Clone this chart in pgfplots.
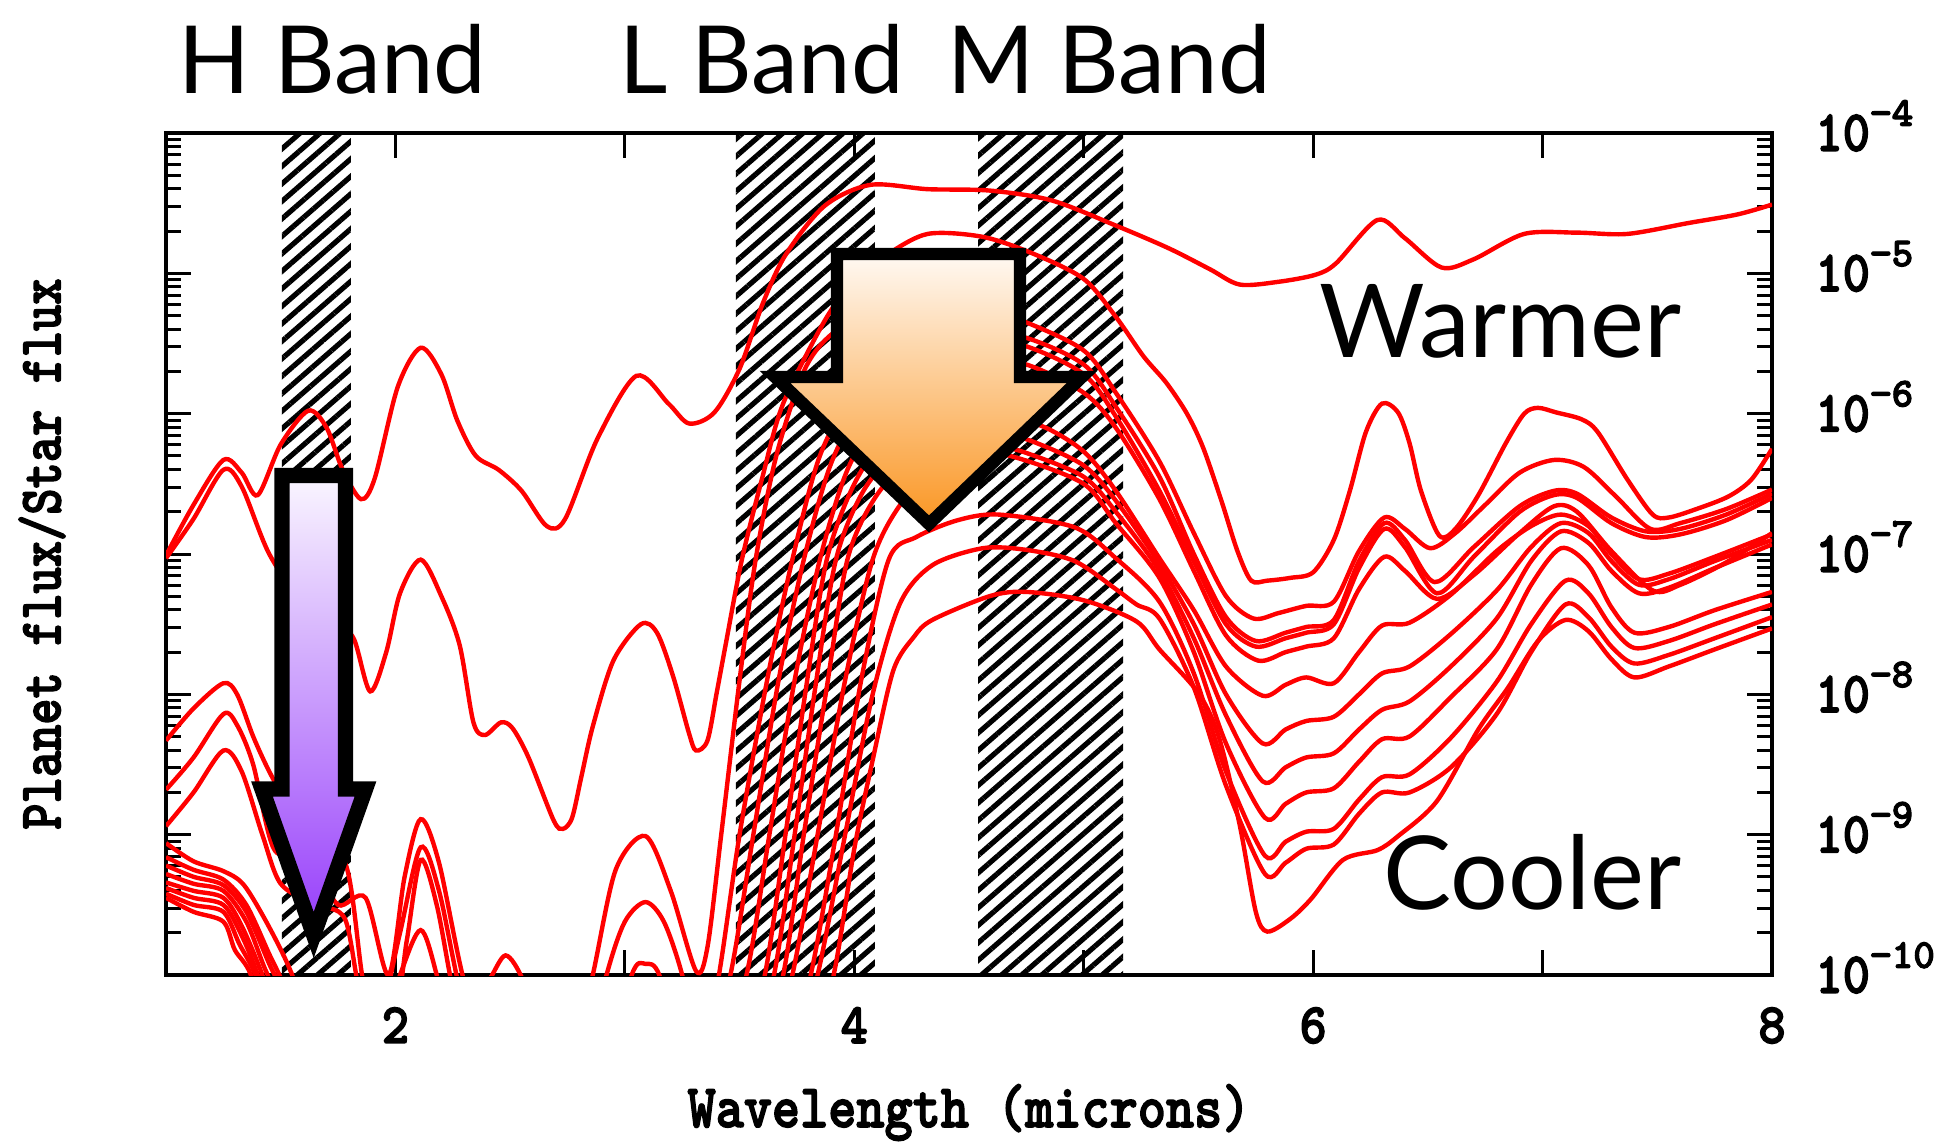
\documentclass[border=0pt]{standalone}
\usepackage{pgfplots}
\pgfplotsset{compat=1.18}
\usepackage{graphicx}
\usepackage{fontspec}
\usetikzlibrary{patterns.meta}
\newfontfamily\lato{Lato}
\newfontfamily\monob{lmmonolt10-bold.otf}[FakeBold=2.5]
\newcommand\tf{\monob\fontsize{26pt}{26pt}\selectfont}
\newcommand\ef{\monob\fontsize{20.6pt}{20.6pt}\selectfont}
\newcommand\xl[1]{\scalebox{1}[1.1]{\tf #1}}
\newcommand\yl[1]{\scalebox{1}[1.12]{\tf 10}\smash{\raisebox{12.5pt}{\ef −#1}}}
\definecolor{purpleB}{RGB}{150,60,250}
\definecolor{purpleT}{RGB}{250,246,255}
\definecolor{orangeB}{RGB}{250,150,35}
\definecolor{orangeT}{RGB}{255,249,243}
\pgfplotsset{spec/.style={red, line width=2.2pt, smooth, mark=none}}
\begin{document}
\begin{tikzpicture}
\useasboundingbox (0,0) rectangle (977pt,573pt);
\begin{axis}[
  at={(83pt,85.5pt)}, anchor=south west,
  scale only axis, width=803pt, height=421pt,
  xmin=1, xmax=8, ymin=1e-10, ymax=1e-4, ymode=log,
  xtick={1,2,3,4,5,6,7,8},
  xticklabels={,\xl{2},,\xl{4},,\xl{6},,\xl{8}},
  ytick={1e-10,1e-9,1e-8,1e-7,1e-6,1e-5,1e-4},
  yticklabels={\yl{10},\yl{9},\yl{8},\yl{7},\yl{6},\yl{5},\yl{4}},
  minor ytick={2e-10,3e-10,4e-10,5e-10,6e-10,7e-10,8e-10,9e-10,
    2e-9,3e-9,4e-9,5e-9,6e-9,7e-9,8e-9,9e-9,
    2e-8,3e-8,4e-8,5e-8,6e-8,7e-8,8e-8,9e-8,
    2e-7,3e-7,4e-7,5e-7,6e-7,7e-7,8e-7,9e-7,
    2e-6,3e-6,4e-6,5e-6,6e-6,7e-6,8e-6,9e-6,
    2e-5,3e-5,4e-5,5e-5,6e-5,7e-5,8e-5,9e-5},
  yticklabel pos=right,
  ytick pos=both, xtick pos=both,
  xticklabel pos=lower,
  tick align=inside,
  major tick length=12.5pt, minor tick length=7.5pt,
  every tick/.style={black, line width=1.5pt},
  axis line style={line width=2pt},
  xticklabel style={anchor=north, inner sep=0pt, yshift=-16pt},
  yticklabel style={anchor=west, inner sep=0pt, xshift=21.5pt},
  xlabel={\scalebox{1}[1.15]{\monob\fontsize{26.8pt}{26.8pt}\selectfont Wavelength (microns)}},
  ylabel={\scalebox{1}[1.2]{\monob\fontsize{25pt}{25pt}\selectfont Planet flux/Star flux}},
  every axis x label/.style={at={(axis description cs:0.5,-0.1805)}, anchor=base, inner sep=0pt},
  every axis y label/.style={at={(axis description cs:-0.0772,0.5)}, rotate=90, anchor=center, inner sep=0pt},
  clip=true,
]
% hatched bands
\fill[pattern={Lines[angle=41,distance=6.6pt,line width=2.6pt]}] (axis cs:1.505,1e-10) rectangle (axis cs:1.806,1e-4);
\fill[pattern={Lines[angle=41,distance=6.6pt,line width=2.6pt]}] (axis cs:3.484,1e-10) rectangle (axis cs:4.09,1e-4);
\fill[pattern={Lines[angle=41,distance=6.6pt,line width=2.6pt]}] (axis cs:4.54,1e-10) rectangle (axis cs:5.172,1e-4);

% C1
\addplot[spec] coordinates {(1.00,9.77e-8) (1.12,2.24e-7) (1.25,4.68e-7) (1.33,3.80e-7) (1.40,2.63e-7) (1.50,6.03e-7) (1.62,1.05e-6) (1.70,7.94e-7) (1.77,3.98e-7) (1.85,2.46e-7) (1.91,3.47e-7) (2.01,1.55e-6) (2.11,2.95e-6) (2.20,1.91e-6) (2.27,8.91e-7) (2.35,5.01e-7) (2.45,3.98e-7) (2.55,2.82e-7) (2.66,1.58e-7) (2.74,1.78e-7) (2.88,6.61e-7) (3.05,1.86e-6) (3.19,1.18e-6) (3.28,8.51e-7) (3.39,1.02e-6) (3.50,2.09e-6) (3.60,6.03e-6) (3.70,1.35e-5) (3.87,3.02e-5) (4.07,4.27e-5) (4.32,3.98e-5) (4.59,3.89e-5) (4.86,3.31e-5) (5.14,2.19e-5) (5.37,1.51e-5) (5.55,1.07e-5) (5.68,8.32e-6) (5.85,8.71e-6) (6.01,9.77e-6) (6.10,1.18e-5) (6.28,2.40e-5) (6.40,1.78e-5) (6.56,1.10e-5) (6.70,1.26e-5) (6.92,1.91e-5) (7.15,1.95e-5) (7.37,1.91e-5) (7.64,2.29e-5) (7.85,2.63e-5) (8.00,3.09e-5)};
% C2
\addplot[spec] coordinates {(1.00,9.33e-8) (1.12,1.78e-7) (1.25,3.98e-7) (1.33,3.02e-7) (1.45,1.00e-7) (1.60,4.47e-8) (1.75,3.16e-8) (1.82,2.46e-8) (1.89,1.05e-8) (1.96,2.00e-8) (2.02,5.25e-8) (2.11,9.12e-8) (2.20,5.01e-8) (2.28,2.24e-8) (2.34,6.31e-9) (2.39,5.13e-9) (2.46,6.31e-9) (2.51,5.75e-9) (2.58,3.55e-9) (2.69,1.26e-9) (2.73,1.10e-9) (2.77,1.32e-9) (2.81,2.57e-9) (2.86,5.89e-9) (2.95,1.74e-8) (3.07,3.16e-8) (3.14,2.75e-8) (3.21,1.35e-8) (3.28,5.25e-9) (3.31,3.98e-9) (3.36,4.68e-9) (3.40,1.02e-8) (3.44,2.29e-8) (3.51,9.12e-8) (3.60,3.55e-7) (3.69,1.18e-6) (3.87,4.57e-6) (4.00,8.91e-6) (4.14,1.35e-5) (4.32,1.91e-5) (4.56,1.82e-5) (4.78,1.38e-5) (5.00,9.12e-6) (5.14,4.90e-6) (5.26,2.57e-6) (5.36,1.66e-6) (5.45,1.00e-6) (5.52,5.75e-7) (5.60,2.40e-7) (5.67,1.05e-7) (5.73,6.46e-8) (5.80,6.46e-8) (5.90,6.76e-8) (6.00,7.41e-8) (6.09,1.26e-7) (6.16,2.82e-7) (6.23,7.41e-7) (6.30,1.18e-6) (6.37,1.02e-6) (6.42,6.17e-7) (6.47,2.82e-7) (6.55,1.35e-7) (6.62,1.51e-7) (6.72,2.63e-7) (6.84,6.17e-7) (6.92,1.00e-6) (6.98,1.10e-6) (7.06,1.02e-6) (7.17,9.12e-7) (7.24,7.41e-7) (7.37,3.39e-7) (7.48,1.91e-7) (7.55,1.82e-7) (7.67,2.09e-7) (7.81,2.57e-7) (7.91,3.39e-7) (8.00,5.62e-7)};
% C3
\addplot[spec] coordinates {(1.00,4.68e-9) (1.12,7.94e-9) (1.25,1.20e-8) (1.31,1.00e-8) (1.38,5.01e-9) (1.45,2.82e-9) (1.55,1.41e-9) (1.65,6.31e-10) (1.75,3.16e-10) (1.87,3.55e-10) (1.97,1.00e-10) (2.04,5.01e-10) (2.11,1.29e-9) (2.19,6.31e-10) (2.31,7.94e-11) (2.40,8.91e-11) (2.48,1.38e-10) (2.56,8.91e-11) (2.65,3.16e-11) (2.78,3.16e-11) (2.86,1.00e-10) (2.96,5.62e-10) (3.09,9.77e-10) (3.20,3.98e-10) (3.31,1.07e-10) (3.36,1.58e-10) (3.42,1.00e-9) (3.50,1.26e-8) (3.57,9.12e-8) (3.66,5.01e-7) (3.78,2.00e-6) (3.89,3.55e-6) (4.05,5.01e-6) (4.30,6.03e-6) (4.55,5.62e-6) (4.75,4.47e-6) (5.00,2.82e-6) (5.14,1.41e-6) (5.33,4.57e-7) (5.48,1.41e-7) (5.62,5.01e-8) (5.74,3.47e-8) (5.85,3.80e-8) (5.97,4.27e-8) (6.09,4.57e-8) (6.20,1.05e-7) (6.31,1.82e-7) (6.40,1.51e-7) (6.51,1.10e-7) (6.62,1.41e-7) (6.75,2.24e-7) (6.90,3.80e-7) (7.05,4.68e-7) (7.18,4.17e-7) (7.32,2.57e-7) (7.47,1.51e-7) (7.60,1.66e-7) (7.80,2.09e-7) (8.00,2.88e-7)};
% C4
\addplot[spec] coordinates {(1.00,2.09e-9) (1.12,3.55e-9) (1.25,7.24e-9) (1.31,6.03e-9) (1.38,3.16e-9) (1.47,7.94e-10) (1.60,7.08e-10) (1.78,6.31e-10) (1.86,8.91e-11) (1.93,5.01e-11) (2.02,2.00e-10) (2.11,8.13e-10) (2.19,3.98e-10) (2.28,7.94e-11) (2.40,1.58e-11) (2.80,1.58e-11) (2.92,1.00e-10) (3.00,2.40e-10) (3.09,3.31e-10) (3.17,2.40e-10) (3.25,1.00e-10) (3.33,2.51e-11) (3.41,1.00e-10) (3.50,1.00e-9) (3.62,1.26e-8) (3.73,9.12e-8) (3.85,5.01e-7) (4.00,1.41e-6) (4.20,2.82e-6) (4.50,3.98e-6) (4.75,3.47e-6) (5.00,2.24e-6) (5.14,1.12e-6) (5.33,3.55e-7) (5.48,1.00e-7) (5.62,3.55e-8) (5.75,2.40e-8) (5.88,2.75e-8) (5.97,3.02e-8) (6.09,3.39e-8) (6.20,8.91e-8) (6.31,1.66e-7) (6.40,1.26e-7) (6.53,6.31e-8) (6.70,1.12e-7) (6.90,2.19e-7) (7.05,2.82e-7) (7.15,2.69e-7) (7.30,1.82e-7) (7.45,1.45e-7) (7.60,1.51e-7) (7.80,1.91e-7) (8.00,2.69e-7)};
% C5
\addplot[spec] coordinates {(1.00,1.15e-9) (1.12,2.00e-9) (1.25,3.98e-9) (1.33,2.82e-9) (1.42,1.00e-9) (1.50,4.47e-10) (1.65,3.16e-10) (1.78,2.51e-10) (1.86,6.31e-11) (2.00,6.31e-11) (2.05,1.78e-10) (2.11,6.61e-10) (2.18,3.16e-10) (2.25,7.94e-11) (2.35,1.58e-11) (2.90,1.58e-11) (3.03,1.00e-10) (3.09,1.20e-10) (3.15,1.00e-10) (3.25,2.51e-11) (3.35,2.51e-11) (3.46,1.00e-10) (3.56,1.00e-9) (3.67,1.26e-8) (3.78,9.12e-8) (3.90,4.47e-7) (4.05,1.26e-6) (4.25,2.51e-6) (4.50,3.55e-6) (4.75,3.02e-6) (5.00,1.91e-6) (5.14,9.55e-7) (5.33,2.82e-7) (5.48,8.91e-8) (5.62,3.16e-8) (5.75,2.19e-8) (5.88,2.51e-8) (5.97,2.75e-8) (6.09,3.16e-8) (6.20,7.94e-8) (6.31,1.51e-7) (6.40,1.12e-7) (6.54,5.25e-8) (6.70,9.55e-8) (6.90,2.00e-7) (7.05,2.63e-7) (7.15,2.51e-7) (7.30,1.66e-7) (7.45,1.32e-7) (7.60,1.38e-7) (7.80,1.74e-7) (8.00,2.51e-7)};
% C6
\addplot[spec] coordinates {(1.00,8.71e-10) (1.12,6.46e-10) (1.25,5.50e-10) (1.34,4.37e-10) (1.45,2.19e-10) (1.55,1.00e-10) (1.65,3.16e-11) (1.90,2.51e-11) (2.02,1.00e-10) (2.11,2.09e-10) (2.18,1.00e-10) (2.26,2.51e-11) (3.40,2.51e-11) (3.53,1.00e-10) (3.63,1.00e-9) (3.74,1.26e-8) (3.85,9.12e-8) (3.97,3.98e-7) (4.12,1.00e-6) (4.30,2.00e-6) (4.50,2.51e-6) (4.75,2.24e-6) (5.00,1.41e-6) (5.14,7.94e-7) (5.33,2.46e-7) (5.48,7.59e-8) (5.62,2.63e-8) (5.76,1.74e-8) (5.88,2.00e-8) (5.97,2.19e-8) (6.09,2.51e-8) (6.20,5.62e-8) (6.31,9.55e-8) (6.40,7.59e-8) (6.54,4.79e-8) (6.70,7.08e-8) (6.90,1.41e-7) (7.05,2.19e-7) (7.15,2.00e-7) (7.30,1.05e-7) (7.48,5.50e-8) (7.60,6.03e-8) (7.80,8.71e-8) (8.00,1.41e-7)};
% C7
\addplot[spec] coordinates {(1.00,6.92e-10) (1.12,5.62e-10) (1.25,4.79e-10) (1.35,3.16e-10) (1.45,1.41e-10) (1.52,7.94e-11) (1.62,2.51e-11) (3.50,2.51e-11) (3.61,1.00e-10) (3.70,1.00e-9) (3.79,1.12e-8) (3.88,9.12e-8) (4.00,3.16e-7) (4.15,7.08e-7) (4.35,1.00e-6) (4.60,1.00e-6) (4.82,8.13e-7) (5.00,5.37e-7) (5.14,2.82e-7) (5.33,9.33e-8) (5.48,3.98e-8) (5.62,1.58e-8) (5.78,9.77e-9) (5.88,1.17e-8) (5.97,1.32e-8) (6.09,1.20e-8) (6.20,2.00e-8) (6.30,3.09e-8) (6.42,3.24e-8) (6.60,5.13e-8) (6.80,1.05e-7) (6.95,1.58e-7) (7.08,1.91e-7) (7.20,1.58e-7) (7.30,1.00e-7) (7.42,6.61e-8) (7.55,7.24e-8) (7.75,9.55e-8) (8.00,1.38e-7)};
% C8
\addplot[spec] coordinates {(1.00,6.03e-10) (1.12,5.01e-10) (1.25,4.37e-10) (1.35,2.82e-10) (1.45,1.20e-10) (1.50,7.94e-11) (1.60,2.51e-11) (3.54,2.51e-11) (3.65,1.00e-10) (3.74,1.00e-9) (3.83,1.12e-8) (3.92,9.12e-8) (4.04,2.82e-7) (4.20,5.62e-7) (4.40,7.94e-7) (4.60,7.59e-7) (4.78,6.31e-7) (5.00,4.27e-7) (5.14,2.40e-7) (5.33,8.51e-8) (5.48,3.16e-8) (5.62,1.00e-8) (5.78,4.47e-9) (5.88,5.62e-9) (5.97,6.46e-9) (6.09,6.92e-9) (6.20,1.00e-8) (6.30,1.41e-8) (6.42,1.58e-8) (6.60,2.69e-8) (6.80,5.50e-8) (6.95,1.12e-7) (7.08,1.66e-7) (7.20,1.41e-7) (7.30,8.91e-8) (7.42,6.03e-8) (7.55,6.61e-8) (7.75,8.91e-8) (8.00,1.26e-7)};
% C9
\addplot[spec] coordinates {(1.00,5.25e-10) (1.12,4.47e-10) (1.25,3.98e-10) (1.35,2.40e-10) (1.43,1.12e-10) (1.50,6.31e-11) (1.60,2.51e-11) (3.58,2.51e-11) (3.69,1.00e-10) (3.78,1.00e-9) (3.88,1.12e-8) (3.97,9.12e-8) (4.09,2.51e-7) (4.25,4.79e-7) (4.45,6.31e-7) (4.60,6.03e-7) (4.75,5.25e-7) (5.00,3.55e-7) (5.14,2.00e-7) (5.33,7.59e-8) (5.48,2.51e-8) (5.62,7.08e-9) (5.78,2.40e-9) (5.88,3.02e-9) (5.97,3.55e-9) (6.09,3.80e-9) (6.20,5.62e-9) (6.30,7.76e-9) (6.42,8.91e-9) (6.60,1.58e-8) (6.80,3.47e-8) (6.95,8.91e-8) (7.08,1.45e-7) (7.20,1.20e-7) (7.30,7.59e-8) (7.42,5.25e-8) (7.55,5.75e-8) (7.75,7.94e-8) (8.00,1.17e-7)};
% C10
\addplot[spec] coordinates {(1.00,4.57e-10) (1.12,3.98e-10) (1.25,3.55e-10) (1.33,2.24e-10) (1.42,1.00e-10) (1.50,3.98e-11) (1.60,2.51e-11) (3.62,2.51e-11) (3.73,1.00e-10) (3.84,1.00e-9) (3.96,1.26e-8) (4.08,9.12e-8) (4.20,2.24e-7) (4.35,3.98e-7) (4.55,5.25e-7) (4.72,4.79e-7) (5.00,3.16e-7) (5.14,1.66e-7) (5.33,6.76e-8) (5.48,2.00e-8) (5.62,4.47e-9) (5.79,1.32e-9) (5.88,1.66e-9) (5.97,2.00e-9) (6.09,2.14e-9) (6.20,3.31e-9) (6.30,4.79e-9) (6.42,5.01e-9) (6.60,9.55e-9) (6.80,2.09e-8) (6.95,6.03e-8) (7.08,1.10e-7) (7.20,8.32e-8) (7.30,4.17e-8) (7.40,2.75e-8) (7.55,3.02e-8) (7.75,3.98e-8) (8.00,5.37e-8)};
% C11
\addplot[spec] coordinates {(1.00,4.17e-10) (1.12,3.55e-10) (1.25,3.16e-10) (1.33,1.91e-10) (1.40,1.00e-10) (1.50,3.16e-11) (1.60,2.51e-11) (3.70,2.51e-11) (3.81,1.00e-10) (3.92,1.00e-9) (4.03,1.26e-8) (4.15,9.12e-8) (4.27,1.32e-7) (4.45,1.74e-7) (4.63,1.91e-7) (4.96,1.55e-7) (5.14,9.33e-8) (5.33,4.57e-8) (5.48,1.41e-8) (5.62,2.82e-9) (5.79,7.08e-10) (5.88,8.91e-10) (5.97,1.05e-9) (6.09,1.10e-9) (6.20,1.78e-9) (6.30,2.57e-9) (6.42,2.69e-9) (6.60,4.90e-9) (6.80,1.23e-8) (6.95,3.16e-8) (7.10,6.46e-8) (7.20,5.25e-8) (7.30,3.02e-8) (7.40,2.14e-8) (7.55,2.40e-8) (7.75,3.16e-8) (8.00,4.37e-8)};
% C12
\addplot[spec] coordinates {(1.00,3.80e-10) (1.12,3.16e-10) (1.25,2.82e-10) (1.32,1.66e-10) (1.39,1.00e-10) (1.50,3.16e-11) (1.60,2.51e-11) (3.73,2.51e-11) (3.84,1.00e-10) (3.96,1.00e-9) (4.08,1.00e-8) (4.20,4.47e-8) (4.34,8.32e-8) (4.56,1.10e-7) (4.75,1.07e-7) (4.96,8.91e-8) (5.14,5.62e-8) (5.23,4.37e-8) (5.33,3.47e-8) (5.48,1.12e-8) (5.62,2.24e-9) (5.79,5.25e-10) (5.88,6.31e-10) (5.97,7.94e-10) (6.09,8.51e-10) (6.20,1.41e-9) (6.30,2.00e-9) (6.42,2.00e-9) (6.60,3.02e-9) (6.80,7.24e-9) (6.95,2.00e-8) (7.10,4.37e-8) (7.20,3.55e-8) (7.30,2.19e-8) (7.40,1.66e-8) (7.55,1.91e-8) (7.75,2.51e-8) (8.00,3.55e-8)};
% C13
\addplot[spec] coordinates {(1.00,3.55e-10) (1.12,2.82e-10) (1.25,2.40e-10) (1.30,1.51e-10) (1.37,1.00e-10) (1.45,3.16e-11) (1.55,2.51e-11) (3.80,2.51e-11) (3.91,1.00e-10) (4.00,7.94e-10) (4.08,3.39e-9) (4.17,1.48e-8) (4.26,2.57e-8) (4.34,3.39e-8) (4.59,5.01e-8) (4.75,5.37e-8) (5.00,4.68e-8) (5.23,3.31e-8) (5.33,2.09e-8) (5.50,1.02e-8) (5.59,4.90e-9) (5.68,1.17e-9) (5.75,2.82e-10) (5.80,2.04e-10) (5.90,2.51e-10) (5.99,3.47e-10) (6.13,6.61e-10) (6.28,7.76e-10) (6.37,9.77e-10) (6.54,1.74e-9) (6.72,5.62e-9) (6.85,1.12e-8) (6.98,2.40e-8) (7.10,3.39e-8) (7.20,2.82e-8) (7.30,1.78e-8) (7.40,1.32e-8) (7.55,1.58e-8) (7.75,2.09e-8) (8.00,2.95e-8)};
\end{axis}

\begin{scope}[x=0.5pt,y=-0.5pt,shift={(0pt,573pt)}]
% purple arrow (H band)
\shadedraw[line width=7.7pt, line join=miter, top color=purpleT, bottom color=purpleB, draw=black]
  (282,475.5) -- (345.5,475.5) -- (345.5,789) -- (365.5,789) -- (313.7,935) -- (262,789) -- (282,789) -- cycle;
% orange arrow (L/M band)
\shadedraw[line width=6.2pt, line join=miter, top color=orangeT, bottom color=orangeB, draw=black]
  (837,254) -- (1020,254) -- (1020,377) -- (1082,377) -- (929,524) -- (775,377) -- (837,377) -- cycle;
% band titles
\node[anchor=base west, inner sep=0pt, font=\lato\fontsize{47pt}{47pt}\selectfont] at (178,93.5) {H Band};
\node[anchor=base west, inner sep=0pt, font=\lato\fontsize{47pt}{47pt}\selectfont] at (619,93.5) {L Band};
\node[anchor=base west, inner sep=0pt, font=\lato\fontsize{47pt}{47pt}\selectfont] at (947,93.5) {M Band};
% annotations
\node[anchor=base east, inner sep=0pt, font=\lato\fontsize{51pt}{51pt}\selectfont] at (1682,357.6) {Warmer};
\node[anchor=base east, inner sep=0pt, font=\lato\fontsize{51pt}{51pt}\selectfont] at (1682,909.7) {Cooler};
\end{scope}
\end{tikzpicture}
\end{document}
